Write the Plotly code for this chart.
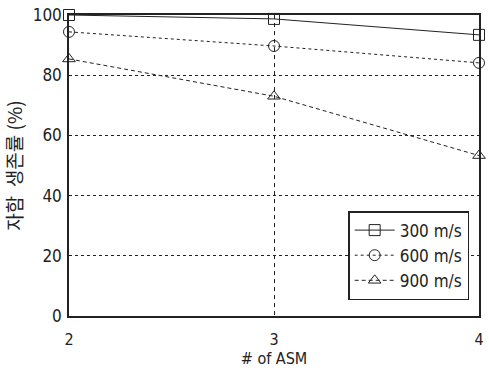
import plotly.graph_objects as go

# Number of ASMs on the x axis
num_asm = [2, 3, 4]

# Ship survival rate (%) for each ASM speed
survival_300 = [100.0, 98.7, 93.4]
survival_600 = [94.4, 89.7, 84.1]
survival_900 = [85.4, 73.0, 53.3]

speed_labels = ["300 m/s", "600 m/s", "900 m/s"]

FONT = "DejaVu Sans Condensed, Liberation Sans Narrow, Liberation Sans, Arial"
INK = "#222222"

fig = go.Figure()

series = [
    (survival_300, speed_labels[0], "solid", "square-open"),
    (survival_600, speed_labels[1], "3px,3px", "circle-open"),
    (survival_900, speed_labels[2], "4px,3px", "triangle-up-open"),
]
for vals, name, dash, sym in series:
    fig.add_trace(go.Scatter(
        x=num_asm, y=vals, name=name, mode="lines+markers",
        line=dict(color=INK, width=1, dash=dash),
        marker=dict(symbol=sym, size=11, color=INK, line=dict(width=1)),
        cliponaxis=False,
    ))

fig.update_layout(
    width=489, height=372,
    margin=dict(l=69, r=5, t=14, b=56),
    paper_bgcolor="white", plot_bgcolor="white",
    font=dict(family=FONT, size=15, color=INK),
    showlegend=True,
    legend=dict(
        x=0.976, y=0.053, xanchor="right", yanchor="bottom",
        bgcolor="white", bordercolor=INK, borderwidth=1.5,
        font=dict(size=17, color=INK), itemwidth=40, tracegroupgap=6,
    ),
    xaxis=dict(
        range=[2, 4], tickvals=num_asm, ticks="", showline=True, mirror=True,
        linecolor=INK, linewidth=1.5, ticklabelstandoff=8,
        showgrid=True, gridcolor=INK, griddash="4px,4px", gridwidth=1,
        zeroline=False, tickfont=dict(size=16, color=INK),
        title=dict(text="# of ASM", font=dict(size=16, color=INK), standoff=4),
    ),
    yaxis=dict(
        range=[0, 100], tickvals=[0, 20, 40, 60, 80, 100], ticks="",
        showline=True, mirror=True, linecolor=INK, linewidth=1.5,
        showgrid=True, gridcolor=INK, griddash="3px,3px", gridwidth=1,
        zeroline=False, ticklabelstandoff=2,
        title=dict(text="자함  생존률 (%)",
                   font=dict(size=19, family="Noto Sans CJK KR", color=INK),
                   standoff=12),
        tickfont=dict(size=17, color=INK),
    ),
)

fig.write_html("out.html")
